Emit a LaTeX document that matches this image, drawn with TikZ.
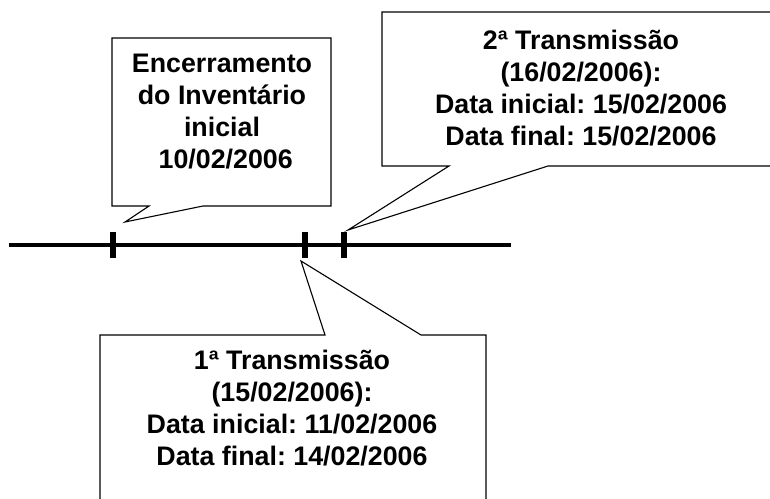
\documentclass[tikz,border=0pt]{standalone}
\usepackage{fontspec}
\setmainfont{Liberation Sans}
\frenchspacing
\usetikzlibrary{positioning}
\tikzset{	x=1pt, y=-1pt,
	timeline/.style={
		line width=4pt},
	marker/.style={
		line width=5.5pt},
	balloon/.style={
		draw,
		line width=1.1pt,
		line join=miter},
	balloontext/.style={
		font=\bfseries\fontsize{26.8}{32}\selectfont,
		align=center,
		inner sep=0pt}
}
\begin{document}
\begin{tikzpicture}
					\useasboundingbox (0,0) rectangle (770,498);
					\coordinate (L) at (9,245);
					\coordinate (R) at (511,245);
					\coordinate (T0) at (113,245);
					\coordinate (T1) at (305,245);
					\coordinate (T2) at (344,245);
					\coordinate (tipA) at (125,222);
					\coordinate (tipB) at (348,230);
					\coordinate (tipC) at (301,261);
					\draw[timeline] (L) -- (R);
					\foreach \t in {T0,T1,T2}
						\draw[marker] ([yshift=-13pt]\t) -- ([yshift=13pt]\t);
					% callouts
					\draw[balloon] (112,38) -| (331,206) -- (203,206) -- (tipA) -- (149,206) -- (112,206) -- cycle;
					\draw[balloon] (776,166) -- (548,166) -- (tipB) -- (449,166) -- (382,166) |- (776,12);
					\draw[balloon] (100,504) |- (325,335) -- (tipC) -- (421,335) -| (486,504);
					\node[balloontext] (enc) at (222,112) {Encerramento\\do Inventário\\inicial\\~10/02/2006};
					\node[balloontext] (tx2) at (581,88) {2ª Transmissão\\(16/02/2006):\\Data inicial: 15/02/2006\\Data final: 15/02/2006};
					\node[balloontext] (tx1) at (292,408) {1ª Transmissão\\(15/02/2006):\\Data inicial: 11/02/2006\\Data final: 14/02/2006};
				\end{tikzpicture}
\end{document}
